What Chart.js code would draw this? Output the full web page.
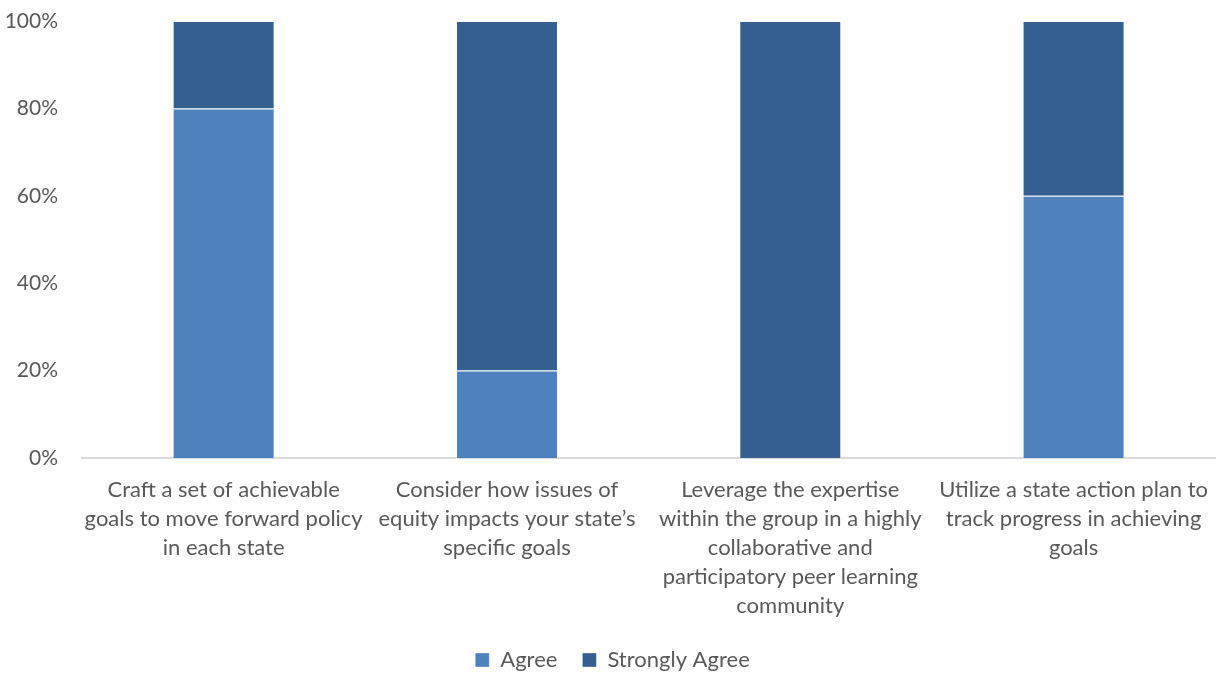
<!DOCTYPE html>
<html>
<head>
<meta charset="utf-8">
<script src="https://cdn.jsdelivr.net/npm/chart.js@4/dist/chart.umd.min.js"></script>
<style>
  html, body { margin: 0; padding: 0; background: #ffffff; }
  #wrap { width: 1225px; height: 673px; position: relative; }
</style>
</head>
<body>
<div id="wrap"><canvas id="chart"></canvas></div>
<script>
// Survey statements (wrapped into lines for the category axis)
const categories = [
  ["Craft a set of achievable", "goals to move forward policy", "in each state"],
  ["Consider how issues of", "equity impacts your state\u2019s", "specific goals"],
  ["Leverage the expertise", "within the group in a highly", "collaborative and", "participatory peer learning", "community"],
  ["Utilize a state action plan to", "track progress in achieving", "goals"]
];
// Share of respondents (%)
const agree = [80, 20, 0, 60];
const stronglyAgree = [20, 80, 100, 40];
const yTicks = [0, 20, 40, 60, 80, 100];

const textColor = "#595959";
const fontFamily = "Lato, 'Open Sans', 'Liberation Sans', sans-serif";

new Chart(document.getElementById("chart"), {
  type: "bar",
  data: {
    labels: categories,
    datasets: [
      {
        label: "Agree",
        data: agree,
        backgroundColor: "#4f81bd",
        borderColor: "rgba(255,255,255,0.35)",
        borderWidth: 1,
        barPercentage: 0.36,
        categoryPercentage: 1
      },
      {
        label: "Strongly Agree",
        data: stronglyAgree,
        backgroundColor: "#355f8f",
        borderColor: "rgba(255,255,255,0.35)",
        borderWidth: 1,
        barPercentage: 0.36,
        categoryPercentage: 1
      }
    ]
  },
  options: {
    responsive: true,
    maintainAspectRatio: false,
    animation: false,
    layout: { padding: { top: 21, right: 0, left: 0, bottom: -8 } },
    scales: {
      x: {
        stacked: true,
        afterFit: (axis) => { axis.height = 166; },
        grid: { display: false, drawTicks: false },
        border: { display: true, color: "#d9d9d9", width: 2 },
        ticks: {
          color: textColor,
          font: { family: fontFamily, size: 22, lineHeight: 1.32 },
          padding: 17,
          maxRotation: 0,
          autoSkip: false
        }
      },
      y: {
        stacked: true,
        min: 0,
        max: 100,
        afterBuildTicks: (axis) => { axis.ticks = yTicks.map(v => ({ value: v })); },
        afterFit: (axis) => {
          // fixed gutter for the percentage labels; top edge set by layout padding
          axis.width = 82;
          axis.paddingTop = 0;
          axis.paddingBottom = 0;
        },
        grid: { display: false, drawTicks: false },
        border: { display: false },
        ticks: {
          color: textColor,
          font: { family: fontFamily, size: 21 },
          padding: 24,
          callback: (v) => v + "%"
        }
      }
    },
    plugins: {
      legend: {
        position: "bottom",
        labels: {
          color: textColor,
          font: { family: fontFamily, size: 22 },
          boxWidth: 14,
          boxHeight: 14,
          padding: 25
        }
      },
      tooltip: { enabled: false }
    }
  }
});
</script>
</body>
</html>
